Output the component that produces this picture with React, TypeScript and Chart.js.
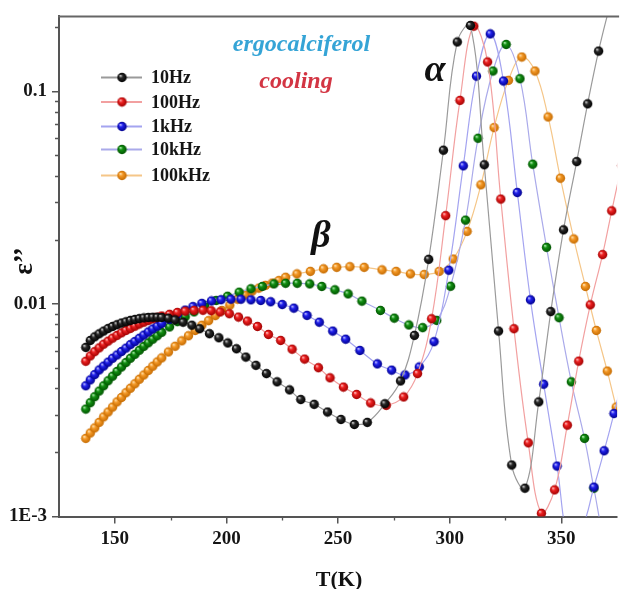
import { useEffect, useRef } from "react";
import { Chart, registerables } from "chart.js";
Chart.register(...registerables);

// ---------- data ----------
const seriesNames = ["10Hz", "100Hz", "1kHz", "10kHz", "100kHz"];

const T_10Hz = [137,139,141,143,145,147,149,151,153,155,157,159,161,163,165,167,169,171,
  174,177,180.6,184.5,188,192.4,196.6,200.6,204.5,208.7,
  213.2,217.9,222.7,228.3,233.3,239.3,245.3,251.3,257.3,263.1,
  271,278,284.2,290.6,297.2,303.4,309.3,315.5,321.9,327.8,
  333.7,339.9,345.3,351,356.9,361.8,366.7,372];
const E_10Hz = [0.00624,0.00673,0.0070,0.00723,0.00745,0.00766,0.00783,0.00798,0.00813,0.00824,0.00836,0.00845,0.00853,0.00859,0.00863,0.00865,0.00865,0.00863,
  0.00856,0.00841,0.0082,0.00794,0.00764,0.00724,0.00693,0.00655,0.00615,0.00562,
  0.00514,0.0047,0.0043,0.00394,0.00355,0.00337,0.0031,0.00286,0.00271,0.00277,
  0.00339,0.00434,0.00711,0.0162,0.0528,0.1706,0.204,0.0451,0.00745,0.001746,
  0.001358,0.00346,0.0092,0.0223,0.0467,0.0873,0.1545,0.26];

const T_100Hz = [137,139,141,143,145,147,149,151,153,155,157,159,161,163,165,167,169,171,
  174.5,178,181.5,185.5,189.5,193.2,197.2,201.3,205.4,209.4,
  213.9,218.8,224.3,229.4,235,241.2,246.4,252.4,258.3,264.6,
  271.6,279.4,285.6,291.9,298.2,304.6,310.8,317,322.9,328.8,
  335.2,341.1,347,352.7,357.8,363,368.5,372.6,377];
const E_100Hz = [0.00537,0.00569,0.00596,0.00621,0.00646,0.00668,0.0069,0.00711,0.00731,0.0075,0.00767,0.00785,0.00804,0.0082,0.00836,0.00851,0.00865,0.00877,
  0.00893,0.00911,0.00924,0.00932,0.00933,0.00929,0.00916,0.00899,0.00867,0.0083,
  0.00783,0.00718,0.00673,0.00612,0.0055,0.00501,0.00449,0.00406,0.00375,0.00342,
  0.00333,0.00365,0.0047,0.00851,0.026,0.0906,0.2023,0.1374,0.0311,0.00764,
  0.00222,0.001035,0.001334,0.00269,0.00538,0.0099,0.01706,0.0274,0.0447];

const T_1kHz = [137,139,141,143,145,147,149,151,153,155,157,159,161,163,165,167,169,171,
  174.5,178,181.5,185,189,193.3,197.6,202,206.5,211,
  215.4,219.8,225,230.2,236.1,241.6,247.6,253.4,259.8,267.6,
  274,280,286.4,293,299.6,306.1,312,318.2,324.1,330.3,
  336.2,342.1,348.1,353.6,359.1,364.6,369.2,373.6,378];
const E_1kHz = [0.00412,0.00439,0.00465,0.00489,0.0051,0.00532,0.00555,0.00575,0.00597,0.00619,0.00643,0.00665,0.00689,0.00713,0.00738,0.00762,0.00785,0.00809,
  0.00846,0.00893,0.00935,0.00971,0.01005,0.01032,0.01046,0.01052,0.01052,0.01045,
  0.01038,0.01023,0.00993,0.00955,0.00883,0.0082,0.00745,0.00682,0.00604,0.00522,
  0.00488,0.00463,0.00505,0.00664,0.0144,0.0446,0.1178,0.1862,0.1117,0.0334,
  0.01045,0.00419,0.001726,0.000759,0.000871,0.001374,0.002037,0.00305,0.00468];

const T_10kHz = [137,139,141,143,145,147,149,151,153,155,157,159,161,163,165,167,169,171,
  174.5,178,181.5,185.5,190.2,195.4,200.5,205.7,211,216.1,
  221.3,226.5,231.7,237.3,242.7,248.6,254.5,260.7,269,275.2,
  281.7,287.9,294.2,300.4,307.1,312.7,319.4,325.3,331.5,337.2,
  343.4,349,354.5,360.4,364.6,370,375.5];
const E_10kHz = [0.0032,0.00343,0.00366,0.00389,0.00412,0.00435,0.00457,0.00481,0.00505,0.0053,0.00555,0.00579,0.00605,0.00631,0.00656,0.00682,0.00708,0.00735,
  0.00779,0.00825,0.00869,0.00917,0.00984,0.01038,0.01086,0.01135,0.01178,0.01208,
  0.01242,0.0125,0.0125,0.01242,0.01208,0.01164,0.01114,0.0103,0.00931,0.00857,
  0.00796,0.00773,0.00836,0.0121,0.02477,0.0601,0.1245,0.166,0.1146,0.0454,
  0.01845,0.00861,0.0043,0.00233,0.001358,0.000708,0.0005];

const T_100kHz = [137,139,141,143,145,147,149,151,153,155,157,159,161,163,165,167,169,171,
  174,177,180,183,186,189,192,195,198,201.5,
  205,208.3,211.5,214.5,217.5,220.5,223.5,226.5,231.6,237.6,
  243.5,249.4,255.3,261.7,269.7,276,282.4,288.6,295.3,301.6,
  307.8,314,319.9,326.3,332.3,338.2,344.1,349.6,355.6,360.8,
  365.7,370.6,374.6,379];
const E_100kHz = [0.00233,0.00247,0.00261,0.00277,0.00294,0.0031,0.00327,0.00346,0.00363,0.00382,0.00401,0.00421,0.00442,0.00463,0.00486,0.00509,0.00533,0.00557,
  0.00594,0.00632,0.0067,0.00708,0.0075,0.00793,0.00834,0.00881,0.00931,0.00986,
  0.01052,0.01102,0.01148,0.01186,0.01222,0.01253,0.01288,0.01334,0.01384,0.01422,
  0.01462,0.01486,0.01496,0.01486,0.01445,0.01422,0.01384,0.01374,0.01422,0.01626,
  0.02193,0.0363,0.0675,0.1125,0.1449,0.1245,0.0757,0.039,0.0202,0.01208,
  0.0075,0.00483,0.00327,0.00224];

const xTickValues = [150, 200, 250, 300, 350];
const xMinorTicks = [175, 225, 275, 325];
const yTickValues = [0.001, 0.01, 0.1];
const yTickLabels = ["1E-3", "0.01", "0.1"];
const yMinorTicks = [0.002,0.003,0.004,0.005,0.006,0.007,0.008,0.009,
  0.02,0.03,0.04,0.05,0.06,0.07,0.08,0.09,0.2];

const seriesT = [T_10Hz, T_100Hz, T_1kHz, T_10kHz, T_100kHz];
const seriesE = [E_10Hz, E_100Hz, E_1kHz, E_10kHz, E_100kHz];

// ---------- styles ----------
const ballColors = [
  { hi: "#d8d8d8", mid: "#2a2a2a", dark: "#000000" },
  { hi: "#ffc0c0", mid: "#ee2222", dark: "#a00000" },
  { hi: "#c8c8ff", mid: "#2222ee", dark: "#00008c" },
  { hi: "#b8f0b8", mid: "#129012", dark: "#005200" },
  { hi: "#ffe6b8", mid: "#f59a28", dark: "#c46a00" },
];
const lineColors = ["#9a9a9a", "#f2a0a0", "#a4a4f0", "#aaaaea", "#f5c688"];
const FONT = "'Liberation Serif', 'Times New Roman', serif";

function makeBall(c: { hi: string; mid: string; dark: string }, r = 4.7) {
  const size = Math.ceil(r * 2) + 1;
  const cv = document.createElement("canvas");
  cv.width = size;
  cv.height = size;
  const g = cv.getContext("2d")!;
  const cx = size / 2, cy = size / 2;
  const grad = g.createRadialGradient(cx - r * 0.35, cy - r * 0.4, r * 0.05, cx, cy, r);
  grad.addColorStop(0, c.hi);
  grad.addColorStop(0.35, c.mid);
  grad.addColorStop(1, c.dark);
  g.fillStyle = grad;
  g.beginPath();
  g.arc(cx, cy, r, 0, Math.PI * 2);
  g.fill();
  return cv;
}

export default function App() {
  const ref = useRef<HTMLCanvasElement | null>(null);

  useEffect(() => {
    if (!ref.current) return;
    const balls = ballColors.map((c) => makeBall(c));

    const decor = {
      id: "decor",
      afterDraw(chart: any) {
        const ctx: CanvasRenderingContext2D = chart.ctx;
        const { left, right, top, bottom } = chart.chartArea;
        const xs = chart.scales.x;
        const ys = chart.scales.y;
        ctx.save();
        // top frame line
        ctx.strokeStyle = "#666";
        ctx.lineWidth = 2;
        ctx.beginPath();
        ctx.moveTo(left - 1, top);
        ctx.lineTo(right + 2, top);
        ctx.stroke();
        // minor ticks
        ctx.strokeStyle = "#555";
        ctx.lineWidth = 1.3;
        ctx.beginPath();
        for (const v of xMinorTicks) {
          const px = Math.round(xs.getPixelForValue(v)) + 0.5;
          ctx.moveTo(px, bottom);
          ctx.lineTo(px, bottom + 4);
        }
        for (const v of yMinorTicks) {
          const py = Math.round(ys.getPixelForValue(v)) + 0.5;
          ctx.moveTo(left - 4, py);
          ctx.lineTo(left, py);
        }
        ctx.stroke();

        // legend
        const legY = [77.5, 102, 126.5, 149.5, 175.5];
        for (let i = 0; i < seriesNames.length; i++) {
          const y = legY[i];
          ctx.strokeStyle = lineColors[i];
          ctx.lineWidth = 2;
          ctx.beginPath();
          ctx.moveTo(101, y);
          ctx.lineTo(142, y);
          ctx.stroke();
          const b = balls[i];
          ctx.drawImage(b, 122 - b.width / 2, y - b.height / 2);
          ctx.fillStyle = "#151515";
          ctx.font = `bold 18px ${FONT}`;
          ctx.textAlign = "left";
          ctx.textBaseline = "middle";
          ctx.fillText(seriesNames[i], 151, y + 1);
        }

        // annotations
        ctx.textAlign = "center";
        ctx.textBaseline = "alphabetic";
        ctx.fillStyle = "#35a4d6";
        ctx.font = `italic bold 24px ${FONT}`;
        ctx.fillText("ergocalciferol", 301.5, 50.5);
        ctx.fillStyle = "#d33543";
        ctx.fillText("cooling", 296, 87.5);
        ctx.fillStyle = "#111";
        ctx.font = `italic bold 38px ${FONT}`;
        ctx.fillText("α", 435, 81);
        ctx.font = `italic bold 38px ${FONT}`;
        ctx.fillText("β", 321, 247);

        // axis titles
        ctx.font = `bold 22px ${FONT}`;
        ctx.fillStyle = "#111";
        ctx.fillText("T(K)", 339, 586);
        ctx.save();
        ctx.translate(25, 261);
        ctx.rotate(-Math.PI / 2);
        ctx.textBaseline = "middle";
        ctx.font = `bold 27px ${FONT}`;
        ctx.fillText("ε’’", 0, 0);
        ctx.restore();
        ctx.restore();
      },
    };

    const datasets = seriesNames.map((name, i) => ({
      label: name,
      data: seriesT[i].map((t, k) => ({ x: t, y: seriesE[i][k] })),
      borderColor: lineColors[i],
      backgroundColor: ballColors[i].mid,
      borderWidth: 1.2,
      pointStyle: balls[i] as any,
      pointRadius: 4.7,
      tension: 0.4,
    }));

    const tickFont = { family: FONT, size: 19, weight: "bold" as const };

    const chart = new Chart(ref.current, {
      type: "line",
      data: { datasets },
      plugins: [decor],
      options: {
        animation: false,
        responsive: false,
        events: [],
        layout: { padding: { top: 15, right: 1.5, left: 0, bottom: 0 } },
        plugins: { legend: { display: false }, tooltip: { enabled: false } },
        scales: {
          x: {
            type: "linear",
            min: 125,
            max: 375,
            afterBuildTicks: (s: any) => {
              s.ticks = xTickValues.map((v) => ({ value: v }));
            },
            afterFit: (s: any) => {
              s.height = 72.5;
            },
            grid: { drawOnChartArea: false, drawTicks: true, tickLength: 7, color: "#555", lineWidth: 1.5 },
            border: { display: true, color: "#555", width: 2 },
            ticks: { font: tickFont, color: "#151515", padding: 4, maxRotation: 0, autoSkip: false },
          },
          y: {
            type: "logarithmic",
            min: 0.001,
            max: 0.225,
            afterBuildTicks: (s: any) => {
              s.ticks = yTickValues.map((v) => ({ value: v, major: true }));
            },
            afterFit: (s: any) => {
              s.width = 59;
            },
            grid: { drawOnChartArea: false, drawTicks: true, tickLength: 7, color: "#555", lineWidth: 1.5 },
            border: { display: true, color: "#555", width: 2 },
            ticks: {
              font: tickFont,
              color: "#151515",
              padding: 5,
              autoSkip: false,
              callback: (_v: any, idx: number) => yTickLabels[idx],
            },
          },
        },
      },
    });
    return () => chart.destroy();
  }, []);

  return (
    <div style={{ position: "absolute", left: 0, top: 0, width: 623, height: 589, background: "#fff", overflow: "hidden" }}>
      <canvas ref={ref} width={623} height={589} style={{ display: "block" }} />
    </div>
  );
}
